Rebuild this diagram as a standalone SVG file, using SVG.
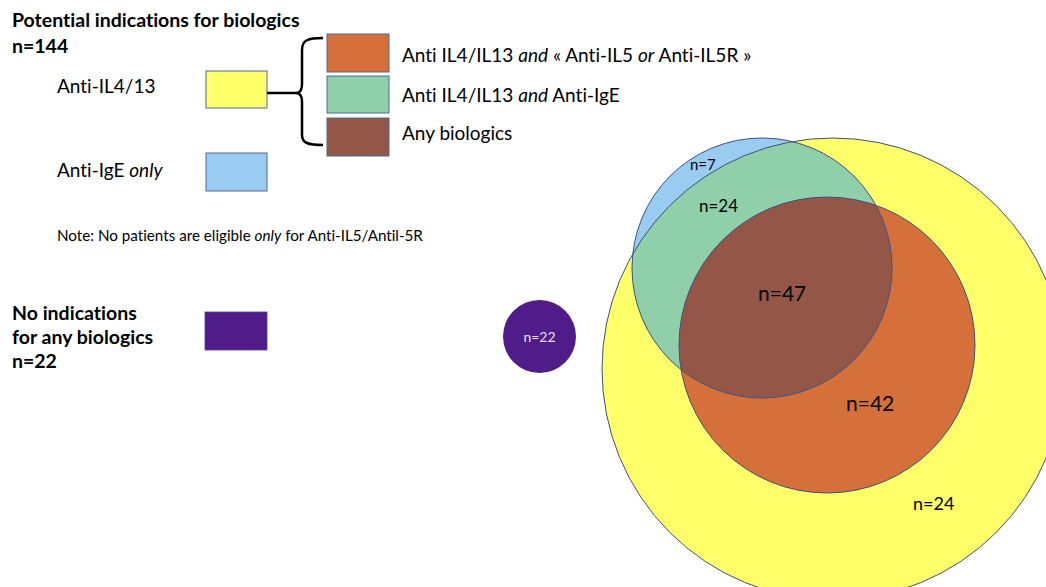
<svg xmlns="http://www.w3.org/2000/svg" width="1046" height="587" viewBox="0 0 1046 587">
<style>
text{font-family:Lato,"Noto Sans",sans-serif;fill:#000;font-variant-ligatures:none;font-feature-settings:"liga" 0}
.h{font-weight:bold;font-size:19.5px}
.l{font-size:19px}
.n{font-size:15.2px}
.sw{stroke:#4a6a9a;stroke-width:1}
.ol{fill:none;stroke:#3f4f80;stroke-width:1}
</style>
<defs>
<clipPath id="cY"><circle cx="833" cy="369" r="231"/></clipPath>
<clipPath id="cO"><circle cx="827" cy="345" r="148"/></clipPath>
</defs>
<rect width="1046" height="587" fill="#fff"/>

<g id="legend-title">
<text class="h" x="12" y="27">Potential indications for biologics</text>
<text class="h" x="12" y="53">n=144</text>
</g>
<g id="legend-anti-il413">
<text class="l" x="57" y="93" font-size="18">Anti-IL4/13</text>
<rect class="sw" x="206" y="71" width="61" height="37" fill="#FFFF6A"/>
</g>
<g id="legend-anti-ige">
<text class="l" x="57" y="177" font-size="18.5">Anti-IgE <tspan font-style="italic">only</tspan></text>
<rect class="sw" x="206" y="153" width="61" height="38" fill="#9ACBF0"/>
</g>
<g id="legend-orange">
<rect class="sw" x="327" y="34" width="62" height="38" fill="#D6703A"/>
<text class="l" x="402" y="62">Anti IL4/IL13 <tspan font-style="italic">and</tspan> « Anti-IL5 <tspan font-style="italic">or</tspan> Anti-IL5R »</text>
</g>
<g id="legend-green">
<rect class="sw" x="327" y="76" width="62" height="37" fill="#8FCFAA"/>
<text class="l" x="402" y="102">Anti IL4/IL13 <tspan font-style="italic">and</tspan> Anti-IgE</text>
</g>
<g id="legend-brown">
<rect class="sw" x="327" y="118" width="62" height="38" fill="#945747"/>
<text class="l" x="402" y="140">Any biologics</text>
</g>
<g id="note">
<text class="n" x="57" y="241">Note: No patients are eligible <tspan font-style="italic">only</tspan> for Anti-IL5/Antil-5R</text>
</g>
<g id="legend-none">
<text class="h" x="12" y="320">No indications</text>
<text class="h" x="12" y="344">for any biologics</text>
<text class="h" x="12" y="368">n=22</text>
<rect x="205" y="312" width="62" height="38" fill="#4F1C8A" stroke="#5a3a9a" stroke-width="0.8"/>
</g>

<g id="connectors">
<path d="M267,93 L296,93 M323,38 C308,38 302,40 302,50 L302,84 C302,90 300,93 296,93 C300,93 302,96 302,102 L302,135 C302,143 308,145 323,145" fill="none" stroke="#000" stroke-width="2.5"/>
</g>

<g id="venn">
<circle cx="833" cy="369" r="231" fill="#FFFF6A"/>
<circle cx="827" cy="345" r="148" fill="#D6703A"/>
<circle cx="762" cy="268" r="130" fill="#9ACBF0"/>
<circle cx="762" cy="268" r="130" fill="#8FCFAA" clip-path="url(#cY)"/>
<circle cx="762" cy="268" r="130" fill="#945747" clip-path="url(#cO)"/>
<circle class="ol" cx="833" cy="369" r="231"/>
<circle class="ol" cx="827" cy="345" r="148"/>
<circle class="ol" cx="762" cy="268" r="130"/>
<text x="690" y="170" font-size="15">n=7</text>
<text x="699" y="212" font-size="17">n=24</text>
<text x="758" y="301" font-size="21">n=47</text>
<text x="846" y="411" font-size="21">n=42</text>
<text x="913" y="510" font-size="18">n=24</text>
</g>

<g id="no-indication-circle">
<circle cx="539.5" cy="336.5" r="36.5" fill="#4F1C8A"/>
<text x="539.5" y="342" font-size="14" text-anchor="middle" style="fill:#e6e0f0">n=22</text>
</g>
</svg>
